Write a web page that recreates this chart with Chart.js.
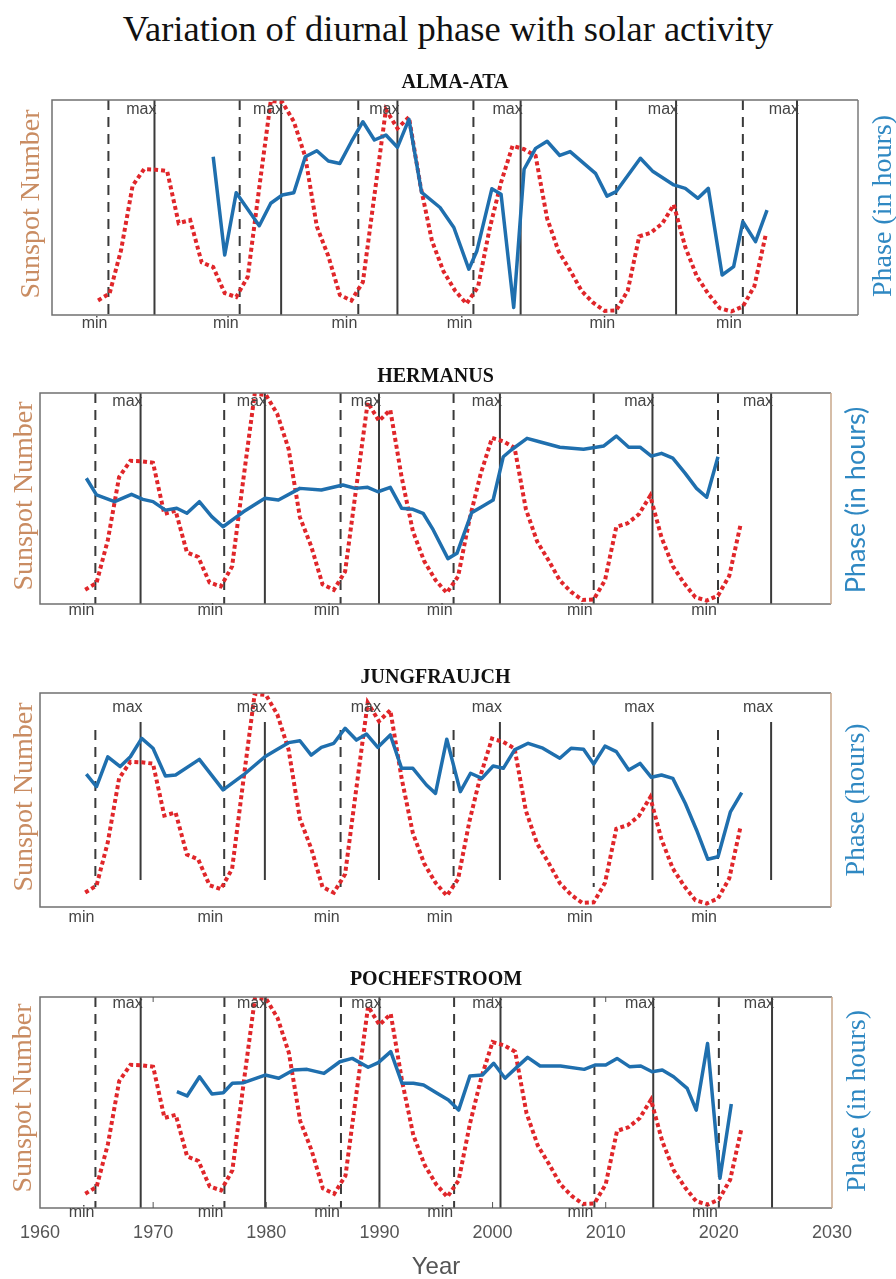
<!DOCTYPE html>
<html><head><meta charset="utf-8">
<script src="https://cdn.jsdelivr.net/npm/chart.js@4.4.1/dist/chart.umd.min.js"></script>
<style>
html,body{margin:0;padding:0;background:#fff;}
body{width:896px;height:1279px;position:relative;overflow:hidden;}
#title{position:absolute;left:0;width:896px;top:9px;text-align:center;font-family:'Liberation Serif',serif;font-size:36.5px;color:#111;line-height:40px;}
canvas{position:absolute;left:0;}
</style></head><body>
<div id="title">Variation of diurnal phase with solar activity</div>
<canvas id="c0" width="896" height="275" style="top:60px"></canvas>
<canvas id="c1" width="896" height="280" style="top:355px"></canvas>
<canvas id="c2" width="896" height="280" style="top:655px"></canvas>
<canvas id="c3" width="896" height="319" style="top:960px"></canvas>
<script>
// ---------- DATA ----------
const sunspotYears = [1964,1965,1966,1967,1968,1969,1970,1971,1972,1973,1974,1975,1976,1977,1978,1979,1980,1981,1982,1983,1984,1985,1986,1987,1988,1989,1990,1991,1992,1993,1994,1995,1996,1997,1998,1999,2000,2001,2002,2003,2004,2005,2006,2007,2008,2009,2010,2011,2012,2013,2014,2015,2016,2017,2018,2019,2020,2021,2022];
const sunspotValues = [15.0,22.0,66.8,132.9,150.0,149.4,148.0,94.4,97.6,54.1,49.2,22.5,18.4,39.3,131.0,220.1,218.9,198.9,162.4,91.0,60.5,20.6,14.8,33.9,123.0,211.1,191.8,203.3,133.0,76.1,44.9,25.1,11.6,28.9,88.3,136.3,173.9,170.4,163.6,99.3,65.3,45.8,24.7,12.6,4.2,4.8,24.9,80.8,84.5,94.0,113.3,69.8,39.8,21.7,7.0,3.6,8.8,29.6,83.2];

// Phase (relative height, 0 = bottom of panel, 100 = top)
const almaYears = [1974,1975,1976,1978,1979,1980,1981,1982,1983,1984,1985,1986,1987,1988,1989,1990,1991,1992.1,1993.7,1994.9,1996.2,1996.9,1998.2,1999,2000.1,2001,2002,2003,2004.1,2005,2007.2,2008.2,2009,2011.1,2012.2,2014,2015,2016.1,2017,2018.2,2019.2,2020,2021.1,2022.1];
const almaPhase = [73.6,27.9,56.9,41.5,52,55.8,56.9,73.6,76.4,71.6,70.5,80.6,89.9,81.4,83.7,78,91,57,50,40.7,21.3,29.8,58.7,56.2,3.5,67.8,77.5,80.8,74.2,76,65.9,55.3,57.4,72.9,66.7,60.5,58.9,54.3,58.9,18.6,22.5,43.4,34.1,48.8];

const hermanusYears = [1964.1,1965,1966.6,1968.1,1969.1,1970,1971.1,1972.1,1973,1974.1,1975.2,1976.2,1978,1979.9,1981.1,1983,1984.9,1986.8,1987.9,1989,1989.9,1991,1992,1993,1993.9,1994.8,1996.1,1996.9,1998.2,1999.1,2000.1,2001,2001.7,2003.1,2004.2,2006,2008.1,2009.9,2011,2012.1,2013.1,2014.1,2015,2016,2017.1,2018.1,2019,2020];
const hermanusPhase = [59.6,51.7,48.5,52,49.6,48.5,44.5,45.4,43,48.5,41.4,36.6,43.7,50.1,49.3,54.8,54,56.4,54.8,55.3,53.2,55.3,45.4,44.9,43,35.1,21.5,24,43.3,46.1,49.3,69.8,73,78.5,76.9,74.3,73.3,74.9,79.6,74.3,74.3,70.1,71.4,69.1,61.9,54.8,50.6,69.8];

const jungYears = [1964.1,1965,1966,1967.1,1968,1969,1970,1971.1,1972,1974.1,1976.2,1978,1979.9,1980.9,1982,1983,1984,1984.9,1986,1987,1988,1988.9,1989.9,1991,1992,1993,1994.2,1995,1996,1997.2,1998.1,1999.1,2000.1,2001,2002,2003.2,2004.5,2006,2007,2008.1,2009,2010,2011,2012.1,2013.1,2014.1,2015,2016,2017.1,2018.1,2019.1,2020,2021.1,2022.1];
const jungPhase = [62.1,56.2,70.2,65.6,70.2,78.8,74.2,61.2,61.7,69,54.7,61.7,70.2,73.4,76.8,77.7,71,74.6,76.5,83.5,78,80.8,74.6,80.4,64.8,64.8,57,53.1,78.4,53.9,62.5,60.1,65.9,64.8,73.4,76.5,74.2,69.5,74.2,73.7,66.8,75.2,72.6,64,67.1,60.6,61.7,60.1,48.5,36,22.3,23.5,44.5,53.4];

const pochYears = [1972.1,1973,1974.1,1975.2,1976.2,1977,1978,1979.9,1981.1,1982.4,1983.6,1985.1,1986.5,1987.6,1989,1989.9,1991,1992,1993,1993.9,1995.1,1996.1,1997,1998,1999.1,2000.1,2001.1,2002.2,2003.1,2004.2,2006,2008.1,2009.1,2010,2011,2012.1,2013.1,2014.1,2015,2016,2017.2,2018,2019,2020.1,2021.1];
const pochPhase = [55.1,53.1,62.2,54,54.6,59.1,59.4,63,61.5,65.4,65.7,63.8,69.3,70.9,66.7,68.9,74.1,59.1,59.1,58.3,54.4,51.2,46.4,62.6,63,68.6,61.5,67,71.4,67.3,67.3,65.7,67.8,67.8,70.9,67,67.3,64.6,65.4,62.2,56.7,46.4,78,14.1,49.3];

const minYears = [1964.9,1976.3,1986.6,1996.6,2009.0,2020.0];
const maxYears = [1968.9,1979.9,1990.0,2000.7,2014.2,2024.7];
const xTickLabels = ['1960','1970','1980','1990','2000','2010','2020','2030'];

// ---------- STYLE / LAYOUT ----------
const RED = '#e0262a';
const BLUE = '#1f6fae';
const LEFT_COL = '#c98c62';
const RIGHT_COL = '#2f88c2';

const panels = [
  {id:'c0', name:'ALMA-ATA', top:60, h:275, box:{l:52,r:858,t:100,b:315}, years:almaYears, phase:almaPhase,
   titleY:83, maxY:110, minY:324, leftX:32, leftY:204, rightX:884, rightY:206, rightText:'Phase (in hours)', rightFont:'28px "Liberation Serif"', rightEdge:'#7a7a7a', bottom:false},
  {id:'c1', name:'HERMANUS', top:355, h:280, box:{l:40,r:831,t:393,b:604}, years:hermanusYears, phase:hermanusPhase,
   titleY:377, maxY:402, minY:611, leftX:25, leftY:496, rightX:856, rightY:500, rightText:'Phase (in hours)', rightFont:'27px Lato', rightEdge:'#c9a78a', bottom:false},
  {id:'c2', name:'JUNGFRAUJCH', top:655, h:280, box:{l:40,r:831,t:693,b:907}, years:jungYears, phase:jungPhase,
   titleY:678, maxY:708, minY:918, leftX:25, leftY:797, rightX:857, rightY:800, rightText:'Phase (hours)', rightFont:'28px "Liberation Serif"', rightEdge:'#c9a78a', bottom:false,
   span:{maxTop:722,maxBot:880,minTop:730,minBot:887}},
  {id:'c3', name:'POCHEFSTROOM', top:960, h:319, box:{l:40,r:832,t:997,b:1208}, years:pochYears, phase:pochPhase,
   titleY:980, maxY:1004, minY:1213, leftX:24, leftY:1098, rightX:858, rightY:1101, rightText:'Phase (in hours)', rightFont:'28px "Liberation Serif"', rightEdge:'#c9a78a', bottom:true}
];

const decor = {
  id:'decor',
  beforeDatasetsDraw(chart){
    const cfg = chart.$cfg;
    const {ctx, chartArea:a, scales:{x}} = chart;
    ctx.save();
    ctx.strokeStyle = '#3a3a3a';
    ctx.lineWidth = 2;
    const sp = cfg.span;
    maxYears.forEach(v=>{
      const px = x.getPixelForValue(v);
      ctx.setLineDash([]);
      ctx.beginPath();
      ctx.moveTo(px, sp ? sp.maxTop-cfg.top : a.top);
      ctx.lineTo(px, sp ? sp.maxBot-cfg.top : a.bottom);
      ctx.stroke();
    });
    minYears.forEach(v=>{
      const px = x.getPixelForValue(v);
      ctx.setLineDash([10,7]);
      ctx.beginPath();
      ctx.moveTo(px, sp ? sp.minTop-cfg.top : a.top);
      ctx.lineTo(px, sp ? sp.minBot-cfg.top : a.bottom);
      ctx.stroke();
    });
    ctx.restore();
  },
  afterDatasetsDraw(chart){
    const cfg = chart.$cfg;
    const {ctx, chartArea:a, scales:{x}} = chart;
    const T = cfg.top;
    ctx.save();
    // box
    ctx.setLineDash([]);
    ctx.lineWidth = 1.5;
    ctx.strokeStyle = '#707070';
    ctx.beginPath();
    ctx.moveTo(a.right, a.top); ctx.lineTo(a.left, a.top); ctx.lineTo(a.left, a.bottom); ctx.lineTo(a.right, a.bottom);
    ctx.stroke();
    ctx.strokeStyle = cfg.rightEdge;
    ctx.beginPath(); ctx.moveTo(a.right, a.top); ctx.lineTo(a.right, a.bottom); ctx.stroke();
    // inner ticks on bottom panel
    if (cfg.bottom) {
      ctx.strokeStyle = '#555'; ctx.lineWidth = 1;
      x.ticks.forEach(t=>{
        if (t.value<=1960 || t.value>=2030) return;
        const px = x.getPixelForValue(t.value);
        ctx.beginPath(); ctx.moveTo(px, a.bottom); ctx.lineTo(px, a.bottom-6); ctx.stroke();
        ctx.beginPath(); ctx.moveTo(px, a.top); ctx.lineTo(px, a.top+5); ctx.stroke();
      });
    }
    // min / max labels
    ctx.fillStyle = '#444';
    ctx.font = '16px "Liberation Sans"';
    ctx.textBaseline = 'middle';
    ctx.textAlign = 'right';
    maxYears.forEach(v=>{ ctx.fillText('max', x.getPixelForValue(v)+2, cfg.maxY - T); });
    minYears.forEach(v=>{ ctx.fillText('min', x.getPixelForValue(v)-1, cfg.minY - T); });
    // panel title
    ctx.fillStyle = '#111';
    ctx.font = 'bold 20px "Liberation Serif"';
    ctx.textAlign = 'center';
    ctx.fillText(cfg.name, (a.left+a.right)/2, cfg.titleY - T);
    // left axis label
    ctx.save();
    ctx.translate(cfg.leftX, cfg.leftY - T);
    ctx.rotate(-Math.PI/2);
    ctx.fillStyle = LEFT_COL;
    ctx.font = '28px "Liberation Serif"';
    ctx.textAlign = 'center';
    ctx.fillText('Sunspot Number', 0, 0);
    ctx.restore();
    // right axis label
    ctx.save();
    ctx.translate(cfg.rightX, cfg.rightY - T);
    ctx.rotate(-Math.PI/2);
    ctx.fillStyle = RIGHT_COL;
    ctx.font = cfg.rightFont;
    ctx.textAlign = 'center';
    ctx.fillText(cfg.rightText, 0, 0);
    ctx.restore();
    ctx.restore();
  }
};

function toXY(xs, ys){ return xs.map((v,i)=>({x:v, y:ys[i]})); }

panels.forEach(cfg=>{
  const canvas = document.getElementById(cfg.id);
  const xScale = {type:'linear', min:1960, max:2030, display:false};
  if (cfg.bottom) {
    Object.assign(xScale, {
      display:true,
      afterFit(s){ s.height = 71; },
      grid:{display:false, drawTicks:false},
      border:{display:false},
      ticks:{stepSize:10, padding:14, color:'#555', maxRotation:0, autoSkip:false,
             font:{family:'Liberation Sans', size:18},
             callback:(v,i)=>xTickLabels[i]},
      title:{display:true, text:'Year', color:'#555', font:{family:'Liberation Sans', size:24, lineHeight:1}, padding:{top:0,bottom:0}}
    });
  }
  const chart = new Chart(canvas.getContext('2d'), {
    type:'line',
    data:{datasets:[
      {label:'Phase', data:toXY(cfg.years, cfg.phase), yAxisID:'y1', borderColor:BLUE, borderWidth:3.5,
       pointRadius:0, tension:0, order:0, borderJoinStyle:'round', fill:false},
      {label:'Sunspot Number', data:toXY(sunspotYears, sunspotValues), yAxisID:'y', borderColor:RED, borderWidth:4,
       borderDash:[4,3], pointRadius:0, tension:0, order:1, fill:false}
    ]},
    options:{
      responsive:false, animation:false, devicePixelRatio:1,
      layout:{padding:{left:cfg.box.l, right:896-cfg.box.r, top:cfg.box.t-cfg.top, bottom: cfg.bottom ? 0 : (cfg.top+cfg.h-cfg.box.b)}},
      plugins:{legend:{display:false}, tooltip:{enabled:false}},
      scales:{
        x:xScale,
        y:{min:0, max:221, display:false},
        y1:{min:0, max:100, display:false, position:'right'}
      }
    },
    plugins:[{id:'cfgset', beforeInit(c){ c.$cfg = cfg; }}, decor]
  });
});
</script>
</body></html>
